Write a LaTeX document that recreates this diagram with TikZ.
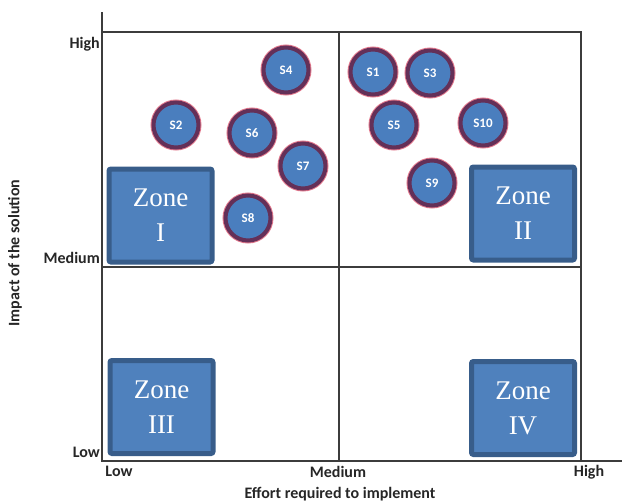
\documentclass[tikz,border=0pt]{standalone}
\usepackage{fontspec}
\setmainfont{Liberation Serif}
\newfontfamily\axisfont{Carlito}
\definecolor{zonefill}{RGB}{79,129,189}
\definecolor{zoneedge}{RGB}{56,93,138}
\definecolor{solfill}{RGB}{74,126,190}
\definecolor{soledge}{RGB}{100,48,88}
\definecolor{solglow}{RGB}{225,120,140}
\definecolor{gridcol}{RGB}{60,60,60}
\begin{document}
\begin{tikzpicture}[x=1pt,y=-1pt,
  zone/.style={draw=zoneedge, fill=zonefill, line width=5pt, rounded corners=2pt,
    minimum width=103pt, minimum height=93pt, inner sep=0pt, text=white, align=center,
    font=\fontsize{27}{35}\selectfont},
  sol/.style={circle, draw=soledge, fill=solfill, line width=4pt, minimum size=45pt,
    inner sep=0pt, text=white, font=\axisfont\bfseries\fontsize{13}{14}\selectfont,
    preaction={draw=solglow, line width=6pt}},
  axislbl/.style={inner sep=0pt, font=\axisfont\bfseries\fontsize{16}{18}\selectfont, text=black!85},
  gridline/.style={draw=gridcol, line width=1.3pt},
  axisline/.style={draw=gridcol, line width=1.6pt}]
\useasboundingbox (0,0) rectangle (622,504);
% frame coordinates
\coordinate (axtop) at (102,12);
\coordinate (origin) at (102,461);
\coordinate (axright) at (622,461);
\coordinate (tl) at (102,32);
\coordinate (tr) at (581,32);
\coordinate (br) at (581,461);
\coordinate (ml) at (102,267);
\coordinate (mr) at (581,267);
\coordinate (mt) at (339,32);
\coordinate (mb) at (339,461);
% grid
\draw[gridline] (tl) -- (tr) -- (br);
\draw[gridline] (ml) -- (mr);
\draw[gridline] (mt) -- (mb);
\draw[axisline] (axtop) -- (origin) -- (axright);
% zones
\node[zone] (z1) at (160.5,215.5) {Zone\\I};
\node[zone] (z2) at (523,213.5) {Zone\\II};
\node[zone] (z3) at (161.5,407) {Zone\\III};
\node[zone] (z4) at (523,408) {Zone\\IV};
% solutions
\node[sol] (s4) at (286,70) {S4};
\node[sol] (s2) at (176,125) {S2};
\node[sol] (s6) at (252,133) {S6};
\node[sol] (s7) at (303,166) {S7};
\node[sol] (s8) at (248,218) {S8};
\node[sol] (s1) at (373,72) {S1};
\node[sol] (s3) at (430,73) {S3};
\node[sol] (s5) at (394,125) {S5};
\node[sol] (s10) at (483,123) {S10};
\node[sol] (s9) at (432,183) {S9};
% axis labels
\node[axislbl, anchor=east] (yhigh) at (100,44) {High};
\node[axislbl, anchor=east] (ymed) at (100,258) {Medium};
\node[axislbl, anchor=east] (ylow) at (100,452) {Low};
\node[axislbl] (xlow) at (119,471) {Low};
\node[axislbl] (xmed) at (338,472) {Medium};
\node[axislbl] (xhigh) at (589,472) {High};
\node[axislbl] (xtitle) at (340,494) {Effort required to implement};
\node[axislbl, rotate=90] (ytitle) at (15,253) {Impact of the solution};
\end{tikzpicture}
\end{document}
